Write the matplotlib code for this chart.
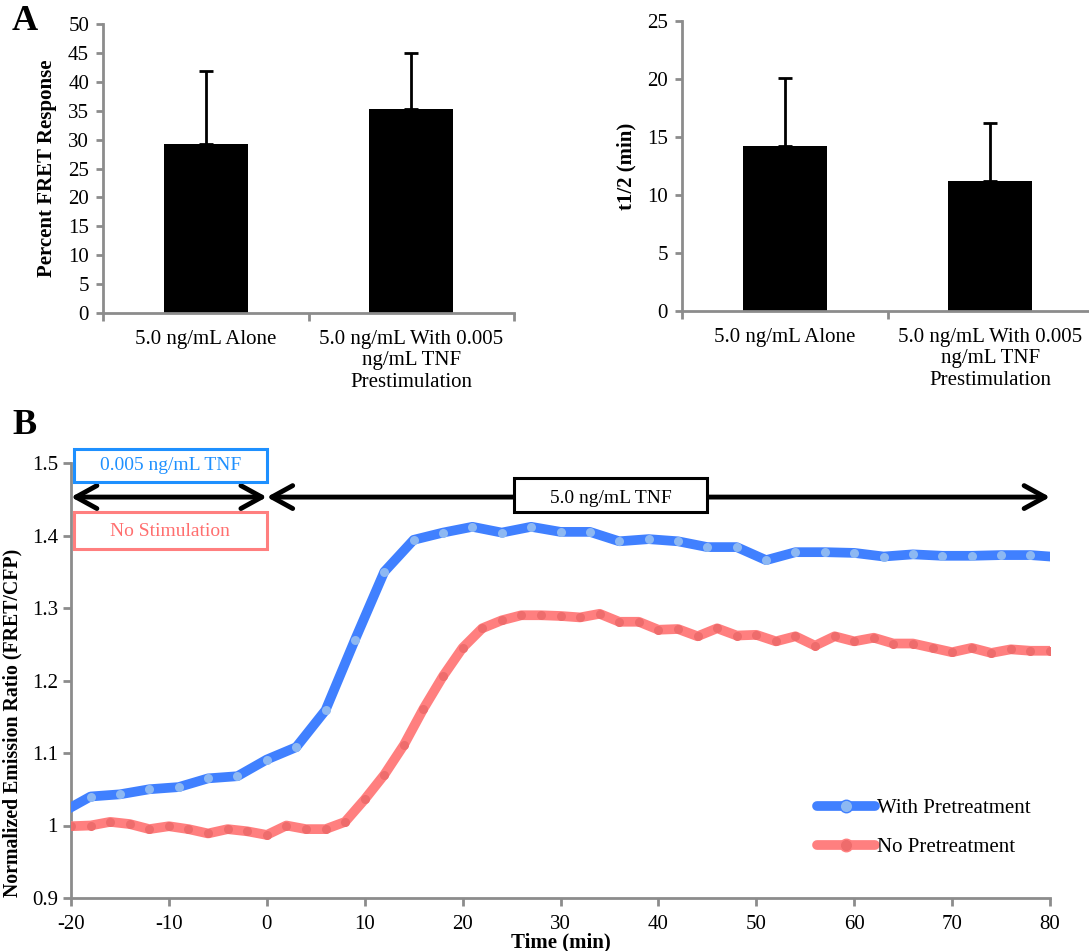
import matplotlib.pyplot as plt
from matplotlib.patches import Rectangle, FancyArrowPatch
import numpy as np

plt.rcParams['font.family'] = ['Liberation Serif', 'DejaVu Serif']
plt.rcParams['axes.unicode_minus'] = False

# --- panel A: bar summaries ---
categories = ['5.0 ng/mL Alone', '5.0 ng/mL With 0.005\nng/mL TNF\nPrestimulation']
fret_response = [29.2, 35.3]
fret_response_err = [12.7, 9.7]
half_time = [14.2, 11.2]
half_time_err = [5.9, 5.0]

# --- panel B: time courses ---
pre_time = [-20, -18, -15, -12, -9, -6, -3, 0, 3, 6, 9, 12, 15, 18, 21, 24, 27,
            30, 33, 36, 39, 42, 45, 48, 51, 54, 57, 60, 63, 66, 69, 72, 75, 78, 80]
pre_ratio = [1.025, 1.040, 1.043, 1.050, 1.053, 1.065, 1.068, 1.091, 1.108, 1.159,
             1.256, 1.350, 1.394, 1.404, 1.412, 1.404, 1.412, 1.405, 1.405, 1.392,
             1.395, 1.392, 1.384, 1.384, 1.366, 1.377, 1.377, 1.376, 1.371, 1.374,
             1.372, 1.372, 1.373, 1.373, 1.371]

nopre_time = [-20, -18, -16, -14, -12, -10, -8, -6, -4, -2, 0, 2, 4, 6, 8, 10, 12,
              14, 16, 18, 20, 22, 24, 26, 28, 30, 32, 34, 36, 38, 40, 42, 44, 46,
              48, 50, 52, 54, 56, 58, 60, 62, 64, 66, 68, 70, 72, 74, 76, 78, 80]
nopre_ratio = [0.999, 1.000, 1.005, 1.002, 0.995, 0.999, 0.995, 0.989, 0.995, 0.992,
               0.987, 1.000, 0.995, 0.995, 1.005, 1.036, 1.070, 1.111, 1.161, 1.206,
               1.245, 1.272, 1.283, 1.290, 1.290, 1.289, 1.287, 1.292, 1.281, 1.281,
               1.270, 1.271, 1.261, 1.272, 1.262, 1.263, 1.254, 1.261, 1.248, 1.261,
               1.254, 1.259, 1.251, 1.251, 1.245, 1.239, 1.245, 1.238, 1.243, 1.241,
               1.241]

b_yticks = [0.9, 1.0, 1.1, 1.2, 1.3, 1.4, 1.5]
b_yticklabels = ['0.9', '1', '1.1', '1.2', '1.3', '1.4', '1.5']
b_xticks = [-20, -10, 0, 10, 20, 30, 40, 50, 60, 70, 80]

AXIS_GRAY = '#8c8c8c'
BLUE = '#4080ff'
RED = '#ff7f7f'
W, H = 1089, 951

fig = plt.figure(figsize=(W / 100, H / 100), dpi=100)


def px_axes(left, top, right, bottom):
    return fig.add_axes([left / W, 1 - bottom / H, (right - left) / W, (bottom - top) / H])


def style_axes(ax):
    for side in ('top', 'right'):
        ax.spines[side].set_visible(False)
    for side in ('left', 'bottom'):
        ax.spines[side].set_color(AXIS_GRAY)
        ax.spines[side].set_linewidth(2)


def bar_panel(ax, values, errors, ymax, ystep, ylabel):
    x = np.arange(len(values))
    ax.bar(x, values, width=0.41, color='black', zorder=2)
    ax.errorbar(x, values, yerr=[np.zeros(len(errors)), errors], fmt='none',
                ecolor='black', elinewidth=2, capsize=5, capthick=2, zorder=3)
    ax.set_xlim(-0.5, len(values) - 0.5)
    ax.set_ylim(0, ymax)
    ax.set_yticks(np.arange(0, ymax + 1, ystep))
    ax.set_xticks(np.arange(len(values) + 1) - 0.5)
    ax.set_xticklabels([])
    ax.set_xticks(x, minor=True)
    ax.set_xticklabels(categories, minor=True)
    ax.tick_params(axis='x', which='minor', length=0, pad=12, labelsize=15)
    ax.tick_params(axis='x', which='major', length=6, width=2, color=AXIS_GRAY)
    ax.tick_params(axis='y', length=5, width=2, color=AXIS_GRAY, labelsize=15, pad=5)
    ax.set_ylabel(ylabel, fontsize=15, fontweight='bold', labelpad=8)
    style_axes(ax)


ax1 = px_axes(103, 24, 514, 313)
bar_panel(ax1, fret_response, fret_response_err, 50, 5, 'Percent FRET Response')

ax2 = px_axes(682, 21, 1093, 311)
bar_panel(ax2, half_time, half_time_err, 25, 5, 't1/2 (min)')

# --- panel B ---
ax3 = px_axes(71, 463, 1050, 898)
ax3.plot(pre_time, pre_ratio, color=BLUE, lw=7, solid_joinstyle='round',
         marker='o', ms=6.5, mfc='#8db8f2', mec='none',
         markevery=list(range(1, len(pre_time) - 1)), zorder=3)
ax3.plot(nopre_time, nopre_ratio, color=RED, lw=7, solid_joinstyle='round',
         solid_capstyle='round', marker='o', ms=6.5, mfc='#ee6c6c', mec='none',
         zorder=3)

# legend handles: line with a single centred dot
ax3.plot([], [], color=BLUE, lw=7, solid_capstyle='round', marker='o', ms=9,
         mfc='#8db8f2', mec=BLUE, label='With Pretreatment')
ax3.plot([], [], color=RED, lw=7, solid_capstyle='round', marker='o', ms=9,
         mfc='#ee6c6c', mec=RED, label='No Pretreatment')

ax3.set_xlim(-20, 80)
ax3.set_ylim(0.9, 1.5)
ax3.set_xticks(b_xticks)
ax3.set_yticks(b_yticks)
ax3.set_yticklabels(b_yticklabels)
ax3.tick_params(axis='both', length=6, width=2, color=AXIS_GRAY, labelsize=15)
ax3.tick_params(axis='x', pad=6)
ax3.set_ylabel('Normalized Emission Ratio (FRET/CFP)', fontsize=14.3, fontweight='bold')
ax3.yaxis.set_label_coords(-0.05, 0.402)
ax3.set_xlabel('Time (min)', fontsize=15, fontweight='bold')
ax3.xaxis.set_label_coords(0.5, -0.103)
ax3.xaxis.label.set_va('center')
style_axes(ax3)

# stimulation arrows
arrow_y = 1.453
for start, end in [(-20, 0), (0, 80)]:
    ax3.add_patch(FancyArrowPatch((start, arrow_y), (end, arrow_y),
                                  arrowstyle='<->,head_length=1.0,head_width=0.55',
                                  mutation_scale=15, lw=3.5, color='black',
                                  shrinkA=0, shrinkB=0, clip_on=False, zorder=4))

# condition boxes
boxes = [
    ((-19.7, 1.474), 19.7, 0.045, '#1e90ff', '#1e90ff', '0.005 ng/mL TNF', 1.4965),
    ((-19.7, 1.382), 19.7, 0.050, RED, '#ff6f6f', 'No Stimulation', 1.405),
    ((25.2, 1.432), 19.8, 0.047, 'black', 'black', '5.0 ng/mL TNF', 1.451),
]
for (bx, by), bw, bh, edge, tcol, txt, ty in boxes:
    ax3.add_patch(Rectangle((bx, by), bw, bh, facecolor='white', edgecolor=edge,
                            lw=2.2, clip_on=False, zorder=5))
    ax3.text(bx + bw / 2, ty, txt, color=tcol, fontsize=14,
             ha='center', va='center', zorder=6)

ax3.legend(loc='upper left', bbox_to_anchor=(0.762, 0.229), frameon=False,
           fontsize=15, handlelength=2.8, handletextpad=0.1, labelspacing=0.95,
           borderpad=0, borderaxespad=0)

fig.text(25 / W, 1 - 22 / H, 'A', fontsize=26, fontweight='bold', ha='center', va='center')
fig.text(25 / W, 1 - 425 / H, 'B', fontsize=26, fontweight='bold', ha='center', va='center')

fig.savefig('out.png', dpi=100)
